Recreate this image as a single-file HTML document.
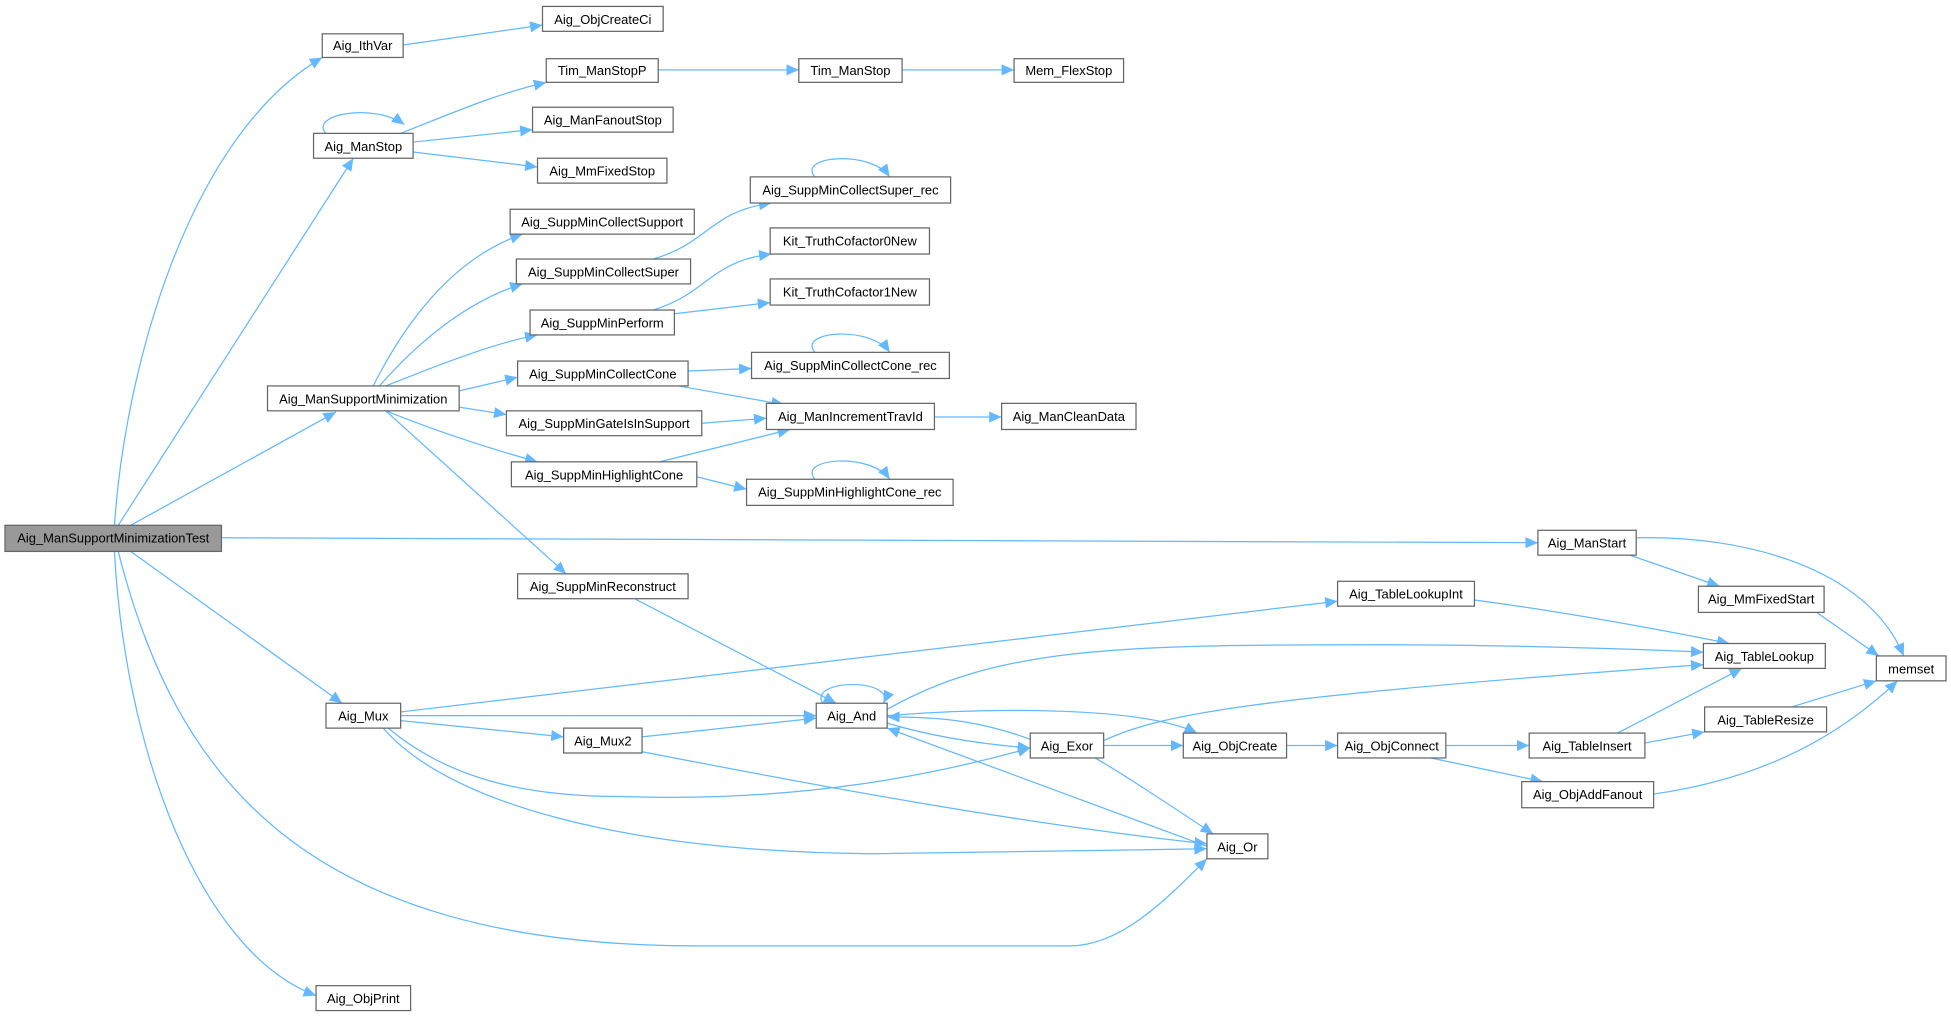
<!DOCTYPE html>
<html><head><meta charset="utf-8"><style>
html,body{margin:0;padding:0;background:#fff;}
svg{display:block;}
text{font-family:"Liberation Sans",Arial,sans-serif;font-size:10.4px;fill:#000;}
.e{fill:none;stroke:#63b8ff;stroke-width:1;}
.n{fill:#fff;stroke:#666;stroke-width:1;}
</style></head><body>
<svg width="1951" height="1017" viewBox="0 0 1568 817" xmlns="http://www.w3.org/2000/svg">
<defs><marker id="a" markerUnits="userSpaceOnUse" markerWidth="12" markerHeight="10" refX="10" refY="4.5" orient="auto"><path d="M0,0 L10,4.5 L0,9 z" fill="#63b8ff"/></marker></defs>
<g class="e" marker-end="url(#a)">
<path d="M92,422 C100,300 150,110 259,46"/>
<path d="M95,422 L284,127"/>
<path d="M105,422 L270,331"/>
<path d="M178,432 L1236,436"/>
<path d="M105,443 L275,565"/>
<path d="M95,443 C140,620 240,760 560,760 L860,760 C900,760 935,725 970,690"/>
<path d="M92,443 C100,600 160,765 254,800"/>
<path d="M324,36 L436,20"/>
<path d="M262,107 C248,92 300,82 325,100"/>
<path d="M322,107 C370,88 400,75 439,66"/>
<path d="M332,114 L428,104"/>
<path d="M332,122 L432,134"/>
<path d="M529,56 L642,56"/>
<path d="M725,56 L815,56"/>
<path d="M300,310 C330,250 370,205 420,188"/>
<path d="M305,310 C340,270 380,240 420,228"/>
<path d="M310,310 C360,290 400,275 432,269"/>
<path d="M369,314 L416,303"/>
<path d="M369,327 L407,333"/>
<path d="M310,330 C360,350 400,362 432,371"/>
<path d="M310,330 L455,461"/>
<path d="M525,208 C570,195 570,170 620,163"/>
<path d="M655,142 C640,125 700,120 715,142"/>
<path d="M525,249 C570,235 570,210 620,204"/>
<path d="M542,252 L619,243"/>
<path d="M553,298 L604,296"/>
<path d="M545,310 L630,325"/>
<path d="M655,283 C640,266 700,261 715,283"/>
<path d="M564,340 L616,336"/>
<path d="M530,371 L635,345"/>
<path d="M560,383 L600,393"/>
<path d="M655,385 C640,368 700,363 715,385"/>
<path d="M751,335 L805,335"/>
<path d="M1315,432 C1400,430 1500,455 1530,527"/>
<path d="M1310,446 L1382,471"/>
<path d="M1460,492 L1510,527"/>
<path d="M1185,482 C1260,492 1330,505 1390,517"/>
<path d="M510,481 L672,565"/>
<path d="M322,572 L1075,483"/>
<path d="M322,575 L656,575"/>
<path d="M322,579 L453,592"/>
<path d="M312,585 C360,625 420,640 500,640 C650,645 760,620 828,601"/>
<path d="M308,585 C360,645 500,684 700,686 L970,682"/>
<path d="M516,592 L656,577"/>
<path d="M516,604 C600,620 800,660 970,678"/>
<path d="M661,565 C650,545 720,545 710,565"/>
<path d="M713,570 C800,520 900,518 1100,518 C1250,518 1369,524 1369,524"/>
<path d="M713,575 C800,568 920,568 962,589"/>
<path d="M713,581 C750,592 790,598 828,601"/>
<path d="M828,594 C790,580 760,576 713,576"/>
<path d="M970,680 L713,585"/>
<path d="M880,609 C900,620 960,660 975,670"/>
<path d="M887,599 L951,599"/>
<path d="M887,595 C930,575 1000,560 1369,534"/>
<path d="M1034,599 L1075,599"/>
<path d="M1162,599 L1229,599"/>
<path d="M1150,609 L1240,628"/>
<path d="M1300,589 L1400,537"/>
<path d="M1322,597 L1370,588"/>
<path d="M1440,568 L1508,547"/>
<path d="M1329,638 C1420,625 1480,590 1525,547"/>
</g>
<g text-anchor="middle">
<rect x="4" y="422" width="174" height="21" fill="#999" stroke="#666"/><text x="91" y="436">Aig_ManSupportMinimizationTest</text>
<rect class="n" x="259" y="27" width="65" height="19"/><text x="291.5" y="40">Aig_IthVar</text>
<rect class="n" x="436" y="5" width="97" height="20"/><text x="484.5" y="19">Aig_ObjCreateCi</text>
<rect class="n" x="439" y="47" width="90" height="19"/><text x="484" y="60">Tim_ManStopP</text>
<rect class="n" x="642" y="47" width="83" height="19"/><text x="683.5" y="60">Tim_ManStop</text>
<rect class="n" x="815" y="47" width="88" height="19"/><text x="859" y="60">Mem_FlexStop</text>
<rect class="n" x="428" y="86" width="113" height="20"/><text x="484.5" y="100">Aig_ManFanoutStop</text>
<rect class="n" x="252" y="107" width="80" height="20"/><text x="292" y="121">Aig_ManStop</text>
<rect class="n" x="432" y="127" width="104" height="20"/><text x="484" y="141">Aig_MmFixedStop</text>
<rect class="n" x="603" y="142" width="161" height="21"/><text x="683.5" y="156">Aig_SuppMinCollectSuper_rec</text>
<rect class="n" x="410" y="168" width="148" height="20"/><text x="484" y="182">Aig_SuppMinCollectSupport</text>
<rect class="n" x="619" y="183" width="128" height="21"/><text x="683" y="197">Kit_TruthCofactor0New</text>
<rect class="n" x="415" y="208" width="140" height="20"/><text x="485" y="222">Aig_SuppMinCollectSuper</text>
<rect class="n" x="619" y="224" width="128" height="21"/><text x="683" y="238">Kit_TruthCofactor1New</text>
<rect class="n" x="426" y="249" width="116" height="20"/><text x="484" y="263">Aig_SuppMinPerform</text>
<rect class="n" x="604" y="283" width="159" height="21"/><text x="683.5" y="297">Aig_SuppMinCollectCone_rec</text>
<rect class="n" x="416" y="290" width="137" height="20"/><text x="484.5" y="304">Aig_SuppMinCollectCone</text>
<rect class="n" x="215" y="310" width="154" height="20"/><text x="292" y="324">Aig_ManSupportMinimization</text>
<rect class="n" x="407" y="330" width="157" height="20"/><text x="485.5" y="344">Aig_SuppMinGateIsInSupport</text>
<rect class="n" x="616" y="324" width="135" height="21"/><text x="683.5" y="338">Aig_ManIncrementTravId</text>
<rect class="n" x="805" y="324" width="108" height="21"/><text x="859" y="338">Aig_ManCleanData</text>
<rect class="n" x="411" y="371" width="149" height="20"/><text x="485.5" y="385">Aig_SuppMinHighlightCone</text>
<rect class="n" x="600" y="385" width="166" height="21"/><text x="683" y="399">Aig_SuppMinHighlightCone_rec</text>
<rect class="n" x="1236" y="426" width="79" height="20"/><text x="1275.5" y="440">Aig_ManStart</text>
<rect class="n" x="416" y="461" width="137" height="20"/><text x="484.5" y="475">Aig_SuppMinReconstruct</text>
<rect class="n" x="1075" y="467" width="110" height="20"/><text x="1130" y="481">Aig_TableLookupInt</text>
<rect class="n" x="1365" y="471" width="101" height="21"/><text x="1415.5" y="485">Aig_MmFixedStart</text>
<rect class="n" x="1369" y="517" width="98" height="20"/><text x="1418" y="531">Aig_TableLookup</text>
<rect class="n" x="1508" y="527" width="56" height="20"/><text x="1536" y="541">memset</text>
<rect class="n" x="262" y="565" width="60" height="20"/><text x="292" y="579">Aig_Mux</text>
<rect class="n" x="656" y="565" width="57" height="20"/><text x="684.5" y="579">Aig_And</text>
<rect class="n" x="453" y="585" width="63" height="20"/><text x="484.5" y="599">Aig_Mux2</text>
<rect class="n" x="828" y="589" width="59" height="20"/><text x="857.5" y="603">Aig_Exor</text>
<rect class="n" x="951" y="589" width="83" height="20"/><text x="992.5" y="603">Aig_ObjCreate</text>
<rect class="n" x="1075" y="589" width="87" height="20"/><text x="1118.5" y="603">Aig_ObjConnect</text>
<rect class="n" x="1229" y="589" width="93" height="20"/><text x="1275.5" y="603">Aig_TableInsert</text>
<rect class="n" x="1370" y="568" width="98" height="20"/><text x="1419" y="582">Aig_TableResize</text>
<rect class="n" x="1223" y="628" width="106" height="21"/><text x="1276" y="642">Aig_ObjAddFanout</text>
<rect class="n" x="970" y="670" width="49" height="20"/><text x="994.5" y="684">Aig_Or</text>
<rect class="n" x="254" y="792" width="76" height="20"/><text x="292" y="806">Aig_ObjPrint</text>
</g>
</svg>
</body></html>
